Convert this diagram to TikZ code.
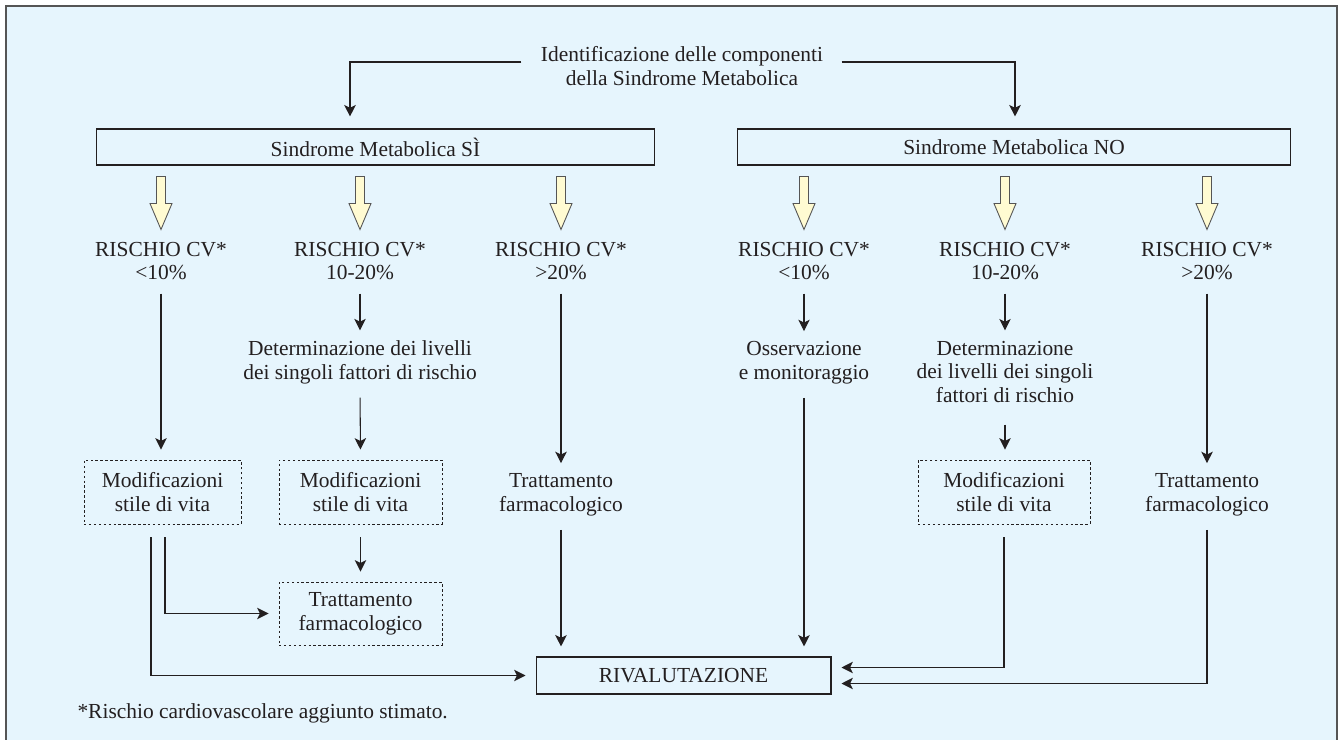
\documentclass[tikz,border=0pt]{standalone}
\usepackage{fontspec}
\setmainfont{Liberation Serif}
\usetikzlibrary{arrows.meta,calc}
\definecolor{panel}{RGB}{230,245,253}
\definecolor{ink}{RGB}{35,31,32}
\definecolor{cream}{RGB}{255,251,210}
\definecolor{rim}{RGB}{85,85,85}
\begin{document}
\begin{tikzpicture}
[ x=0.02cm, y=-0.02cm, line width=0.6pt, color=ink
, label/.style={align=center, inner sep=0pt, font=\fontsize{12.2}{13.6}\selectfont}
, plainbox/.style={draw, rectangle, inner sep=0pt, minimum height=0.72cm, font=\fontsize{12.2}{13.6}\selectfont}
, dotbox/.style={draw, line width=0.5pt, dash pattern=on 1.4pt off 1.4pt, rectangle, align=center, inner sep=0pt, minimum height=1.28cm, font=\fontsize{12.2}{13.6}\selectfont}
, link/.style={-{Stealth[length=6.5pt,width=6.5pt,inset=1.6pt]}, shorten <=0.26cm, shorten >=0.2cm}
, fatarrow/.pic={\draw[fill=cream, draw=rim, line width=0.5pt] (-4.5,11) -- (4.5,11) -- (4.5,38) -- (11,38) -- (0,64) -- (-11,38) -- (-4.5,38) -- cycle;}
]
\useasboundingbox (0,0) rectangle (1340,740);
\fill[panel] (6,6) rectangle (1337,740);
\draw[line width=1pt, rim] (6,740) -- (6,6) -- (1337,6) -- (1337,740);
% Top:
\node (top) [label] at (682,66) {Identificazione delle componenti\\della Sindrome Metabolica};
\node (si) [plainbox, minimum width=11.18cm] at (375.5,147) {Sindrome Metabolica SÌ};
\node (no) [plainbox, minimum width=11.08cm] at (1014,147) {Sindrome Metabolica NO};
% Risk levels:
\node (r1) [label] at (161,261) {RISCHIO CV*\\<10\%};
\node (r2) [label] at (360,261) {RISCHIO CV*\\10-20\%};
\node (r3) [label] at (561,261) {RISCHIO CV*\\>20\%};
\node (r4) [label] at (804,261) {RISCHIO CV*\\<10\%};
\node (r5) [label] at (1005,261) {RISCHIO CV*\\10-20\%};
\node (r6) [label] at (1207,261) {RISCHIO CV*\\>20\%};
% Left branch:
\node (d2) [label] at (360,362.5) {Determinazione dei livelli\\dei singoli fattori di rischio};
\node (m1) [dotbox, minimum width=3.14cm] at (162.5,492) {Modificazioni\\stile di vita};
\node (m2) [dotbox, minimum width=3.26cm] at (360.5,492) {Modificazioni\\stile di vita};
\node (t3) [label] at (561,495) {Trattamento\\farmacologico};
\node (t2) [dotbox, minimum width=3.26cm, minimum height=1.26cm] at (360.5,613.5) {Trattamento\\farmacologico};
% Right branch:
\node (o4) [label] at (804,363) {Osservazione\\e monitoraggio};
\node (f5) [label] at (1005,372) {Determinazione\\dei livelli dei singoli\\fattori di rischio};
\node (m5) [dotbox, minimum width=3.44cm] at (1004,492) {Modificazioni\\stile di vita};
\node (t6) [label] at (1207,495) {Trattamento\\farmacologico};
% Bottom:
\node (rv) [plainbox, minimum width=5.9cm, minimum height=0.74cm] at (683.5,675.5) {RIVALUTAZIONE};
\node (note) [label, anchor=base west] at (77,718) {*Rischio cardiovascolare aggiunto stimato.};
\draw [link, shorten <=0.38cm, shorten >=0pt] ($(top.west)+(0,-4)$) -| ($(si.north)+(-25.5,-12)$);
\draw [link, shorten <=0.36cm, shorten >=0pt] ($(top.east)+(0,-4)$) -| ($(no.north)+(1,-12)$);
\foreach \r in {r1,r2,r3} \path (\r |- si.south) pic {fatarrow};
\foreach \r in {r4,r5,r6} \path (\r |- no.south) pic {fatarrow};
\draw [link] (r1.south) -- (r1.south |- m1.north);
\draw [link] ($(m1.south)+(-11.5,0)$) |- (rv.west);
\draw [link] ($(m1.south)+(2.5,0)$) |- (t2.west);
\draw [link] (r2.south) -- (d2.north);
\draw [link] (d2.south) -- (m2.north);
\draw [link] (m2.south) -- (t2.north);
\draw [link] (r3.south) -- (t3.north);
\draw [link] (t3.south) -- (t3.south |- rv.north);
\draw [link] (r4.south) -- (o4.north);
\draw [link] (o4.south) -- (o4.south |- rv.north);
\draw [link] (r5.south) -- (f5.north);
\draw [link, shorten <=0.42cm] (f5.south) -- (f5.south |- m5.north);
\draw [link] (m5.south) |- ($(rv.east)+(0,-8)$);
\draw [link] (r6.south) -- (t6.north);
\draw [link] (t6.south) |- ($(rv.east)+(0,8)$);
\end{tikzpicture}
\end{document}
